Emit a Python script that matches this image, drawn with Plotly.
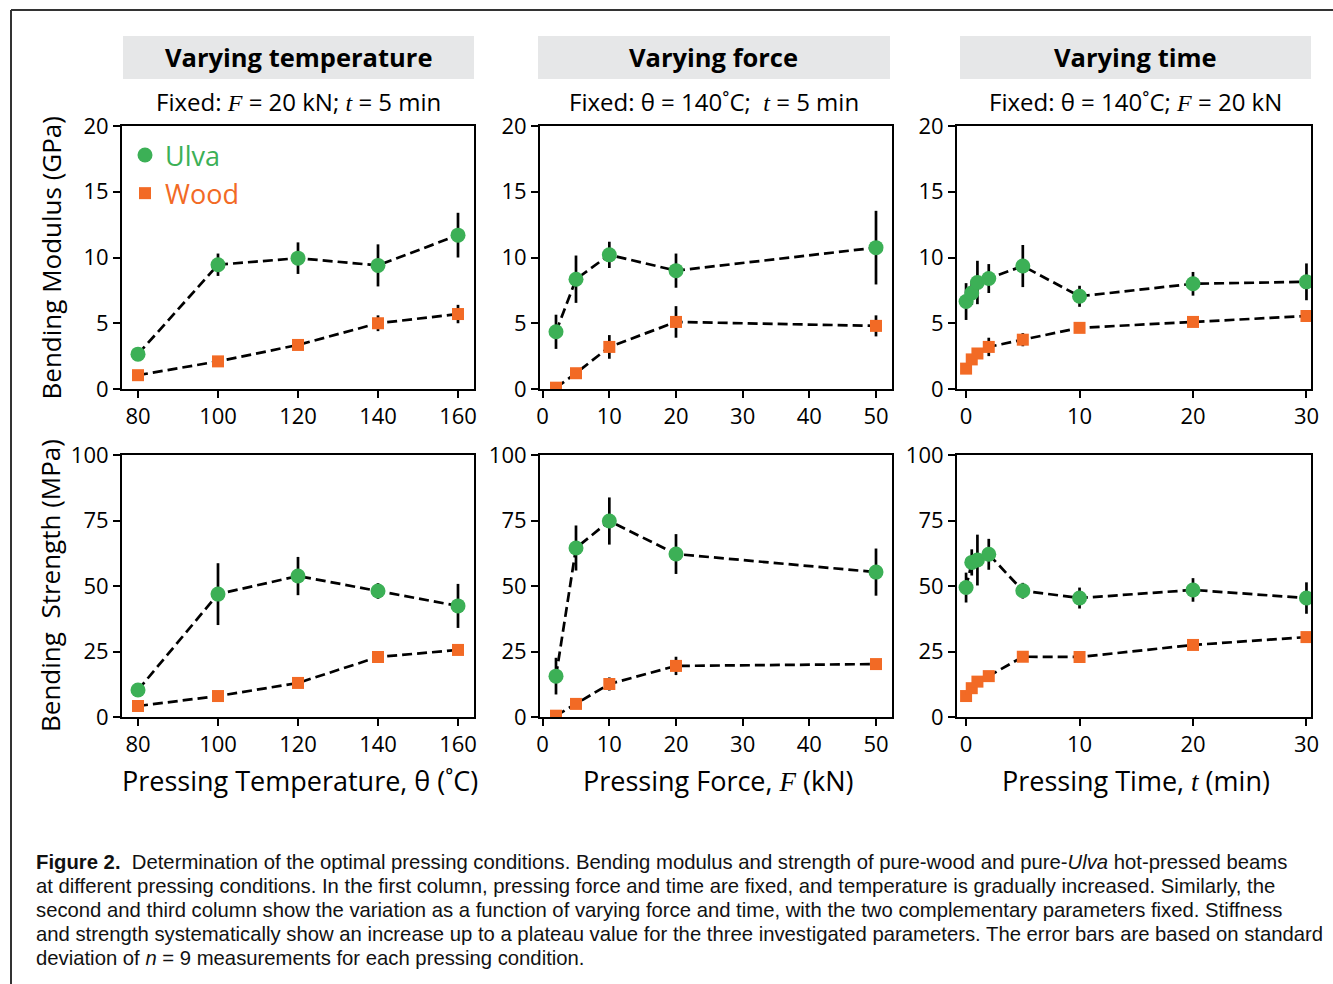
import plotly.graph_objects as go

# ---------------- data ----------------
temp_x = [80, 100, 120, 140, 160]
temp_ulva_mod = [2.65, 9.45, 9.95, 9.4, 11.7]
temp_ulva_mod_err = [0.2, 0.85, 1.2, 1.6, 1.7]
temp_wood_mod = [1.05, 2.1, 3.35, 5.0, 5.7]
temp_wood_mod_err = [0.2, 0.4, 0.3, 0.6, 0.7]
temp_ulva_str = [10.3, 46.9, 53.8, 48.1, 42.4]
temp_ulva_str_err = [1.5, 11.8, 7.3, 3.0, 8.4]
temp_wood_str = [4.2, 8.0, 13.0, 22.9, 25.6]
temp_wood_str_err = [0.8, 1.0, 1.2, 1.2, 1.2]

force_x = [2, 5, 10, 20, 50]
force_ulva_mod = [4.35, 8.35, 10.2, 9.0, 10.75]
force_ulva_mod_err = [1.3, 1.8, 1.0, 1.3, 2.8]
force_wood_mod = [0.1, 1.2, 3.2, 5.1, 4.8]
force_wood_mod_err = [0.1, 0.2, 0.9, 1.2, 0.8]
force_ulva_str = [15.6, 64.5, 74.8, 62.2, 55.3]
force_ulva_str_err = [7.0, 8.6, 9.0, 7.6, 9.0]
force_wood_str = [0.5, 5.0, 12.6, 19.5, 20.2]
force_wood_str_err = [0.3, 0.8, 2.5, 3.5, 1.0]

time_x = [0, 0.5, 1, 2, 5, 10, 20, 30]
time_ulva_mod = [6.65, 7.3, 8.1, 8.4, 9.35, 7.05, 8.0, 8.15]
time_ulva_mod_err = [1.4, 0.9, 1.65, 1.1, 1.6, 0.8, 0.9, 1.4]
time_wood_mod = [1.55, 2.25, 2.7, 3.2, 3.75, 4.65, 5.1, 5.55]
time_wood_mod_err = [0.2, 0.3, 0.3, 0.7, 0.5, 0.3, 0.3, 0.3]
time_ulva_str = [49.4, 59.0, 59.9, 62.1, 48.2, 45.4, 48.5, 45.4]
time_ulva_str_err = [5.7, 5.0, 9.7, 5.9, 3.0, 4.0, 4.5, 6.0]
time_wood_str = [8.0, 11.0, 13.5, 15.6, 23.0, 22.9, 27.5, 30.5]
time_wood_str_err = [1.0, 1.0, 1.0, 1.0, 1.0, 1.0, 1.0, 1.0]

SERIF = "<span style='font-family:Liberation Serif'><i>{}</i></span>"
col_titles = ["Varying temperature", "Varying force", "Varying time"]
col_subtitles = ["Fixed: " + SERIF.format("F") + " = 20 kN; " + SERIF.format("t") + " = 5 min",
                 "Fixed: θ = 140˚C;  " + SERIF.format("t") + " = 5 min",
                 "Fixed: θ = 140˚C; " + SERIF.format("F") + " = 20 kN"]
x_titles = ["Pressing Temperature, θ (˚C)",
            "Pressing Force, " + SERIF.format("F") + " (kN)",
            "Pressing Time, " + SERIF.format("t") + " (min)"]
y_titles = ["Bending Modulus (GPa)", "Bending  Strength (MPa)"]
x_ticks = [[80, 100, 120, 140, 160], [0, 10, 20, 30, 40, 50], [0, 10, 20, 30]]
x_ranges = [[76, 164], [-0.4, 52.4], [-0.8, 30.4]]
y_ticks = [[0, 5, 10, 15, 20], [0, 25, 50, 75, 100]]
y_ranges = [[0, 20], [0, 100]]
caption_lines = [
    "<b>Figure 2.</b>  Determination of the optimal pressing conditions. Bending modulus and strength of pure-wood and pure-<i>Ulva</i> hot-pressed beams",
    "at different pressing conditions. In the first column, pressing force and time are fixed, and temperature is gradually increased. Similarly, the",
    "second and third column show the variation as a function of varying force and time, with the two complementary parameters fixed. Stiffness",
    "and strength systematically show an increase up to a plateau value for the three investigated parameters. The error bars are based on standard",
    "deviation of <i>n</i> = 9 measurements for each pressing condition.",
]

GREEN = "#3cb056"
ORANGE = "#f26a25"
W, H = 1333, 984
FONT = "Open Sans"

def px(x):
    return x / W

def py(y):
    return 1 - y / H

col_px = [(122, 474), (540, 892), (957, 1311)]
row_px = [(126, 389), (455, 717)]

fig = go.Figure()

panels = [
    (temp_x, temp_ulva_mod, temp_ulva_mod_err, temp_wood_mod, temp_wood_mod_err),
    (force_x, force_ulva_mod, force_ulva_mod_err, force_wood_mod, force_wood_mod_err),
    (time_x, time_ulva_mod, time_ulva_mod_err, time_wood_mod, time_wood_mod_err),
    (temp_x, temp_ulva_str, temp_ulva_str_err, temp_wood_str, temp_wood_str_err),
    (force_x, force_ulva_str, force_ulva_str_err, force_wood_str, force_wood_str_err),
    (time_x, time_ulva_str, time_ulva_str_err, time_wood_str, time_wood_str_err),
]

layout_axes = {}
for i, (xs, u, ue, w, we) in enumerate(panels):
    r, c = divmod(i, 3)
    n = i + 1
    xa = "x" if n == 1 else f"x{n}"
    ya = "y" if n == 1 else f"y{n}"
    for ys, es, col, sym, size, name in [
        (u, ue, GREEN, "circle", 15, "Ulva"),
        (w, we, ORANGE, "square", 12, "Wood"),
    ]:
        fig.add_trace(go.Scatter(
            x=xs, y=ys, xaxis=xa, yaxis=ya, mode="lines",
            line=dict(color="black", width=2.7, dash="10px,5px"),
            showlegend=False, hoverinfo="skip"))
        fig.add_trace(go.Scatter(
            x=xs, y=ys, xaxis=xa, yaxis=ya, mode="markers",
            marker=dict(color=col, symbol=sym, size=size, line=dict(width=0)),
            error_y=dict(type="data", array=es, color="black", thickness=2.7, width=0),
            name=f"<span style='color:{col}'>{name}</span>",
            showlegend=(i == 0)))
    axcommon = dict(showline=True, linecolor="black", linewidth=2, mirror=True,
                    ticks="outside", ticklen=7, tickwidth=2, tickcolor="black",
                    showgrid=False, zeroline=False,
                    tickfont=dict(family=FONT, size=22, color="black"))
    layout_axes["xaxis" if n == 1 else f"xaxis{n}"] = dict(
        domain=[px(col_px[c][0]), px(col_px[c][1])], anchor=ya,
        range=x_ranges[c], tickvals=x_ticks[c], **axcommon)
    layout_axes["yaxis" if n == 1 else f"yaxis{n}"] = dict(
        domain=[py(row_px[r][1]), py(row_px[r][0])], anchor=xa,
        range=y_ranges[r], tickvals=y_ticks[r], **axcommon)

fig.update_layout(**layout_axes)

shapes = [
    dict(type="line", xref="paper", yref="paper", x0=px(11), x1=1.0, y0=py(10), y1=py(10),
         line=dict(color="#333333", width=2)),
    dict(type="line", xref="paper", yref="paper", x0=px(11), x1=px(11), y0=0, y1=py(10),
         line=dict(color="#333333", width=2)),
]
header_px = [(123, 474), (538, 890), (960, 1311)]
annotations = []
for c in range(3):
    shapes.append(dict(type="rect", xref="paper", yref="paper",
                       x0=px(header_px[c][0]), x1=px(header_px[c][1]),
                       y0=py(79), y1=py(36), fillcolor="#e6e7e8", line=dict(width=0),
                       layer="below"))
    cx = (header_px[c][0] + header_px[c][1]) / 2
    annotations.append(dict(text=f"<b>{col_titles[c]}</b>", x=px(cx), y=py(57),
                            xref="paper", yref="paper", showarrow=False,
                            xanchor="center", yanchor="middle",
                            font=dict(family=FONT, size=25.5, color="black")))
    annotations.append(dict(text=col_subtitles[c], x=px(cx), y=py(102),
                            xref="paper", yref="paper", showarrow=False,
                            xanchor="center", yanchor="middle",
                            font=dict(family=FONT, size=24, color="black")))
    cx2 = (col_px[c][0] + col_px[c][1]) / 2
    annotations.append(dict(text=x_titles[c], x=px(cx2 + 2), y=py(780),
                            xref="paper", yref="paper", showarrow=False,
                            xanchor="center", yanchor="middle",
                            font=dict(family=FONT, size=27, color="black")))
for r in range(2):
    cy = (row_px[r][0] + row_px[r][1]) / 2
    annotations.append(dict(text=y_titles[r], x=px(50), y=py(cy), textangle=-90,
                            xref="paper", yref="paper", showarrow=False,
                            xanchor="center", yanchor="middle",
                            font=dict(family=FONT, size=26, color="black")))

for k, line in enumerate(caption_lines):
    annotations.append(dict(text=line, x=px(34), y=py(862 + 24 * k), xref="paper",
                            yref="paper", showarrow=False, xanchor="left",
                            yanchor="middle", align="left",
                            font=dict(family="Liberation Sans", size=20.3, color="#111111")))

fig.update_layout(
    width=W, height=H,
    margin=dict(l=0, r=0, t=0, b=0, pad=0, autoexpand=False),
    paper_bgcolor="white", plot_bgcolor="white",
    shapes=shapes, annotations=annotations,
    legend=dict(x=px(125), y=py(131), xanchor="left", yanchor="top",
                bgcolor="rgba(0,0,0,0)", font=dict(family=FONT, size=27),
                itemwidth=30, tracegroupgap=0),
)

fig.write_html("out.html")
